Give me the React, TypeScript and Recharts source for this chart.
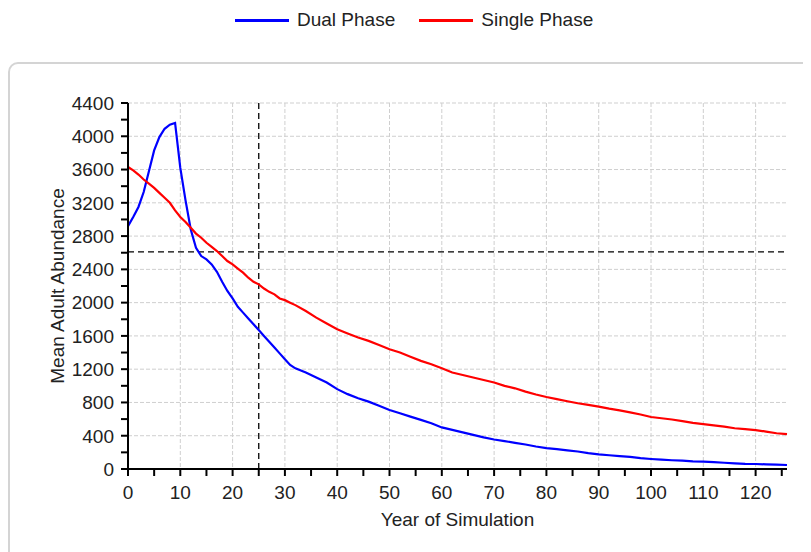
import React from 'react';
import {
  LineChart,
  Line,
  XAxis,
  YAxis,
  CartesianGrid,
  ReferenceLine
} from 'recharts';

// Simulation years (annual to 32, then every second year)
const years = [
  0, 1, 2, 3, 4, 5, 6, 7, 8, 9, 10, 11, 12, 13, 14, 15, 16, 17, 18, 19, 20,
  21, 22, 23, 24, 25, 26, 27, 28, 29, 30, 31, 32,
  34, 36, 38, 40, 42, 44, 46, 48, 50, 52, 54, 56, 58, 60, 62, 64, 66, 68,
  70, 72, 74, 76, 78, 80, 82, 84, 86, 88, 90, 92, 94, 96, 98, 100, 102, 104,
  106, 108, 110, 112, 114, 116, 118, 120, 122, 124, 126
];

const dualPhase = [
  2920, 3030, 3150, 3330, 3580, 3830, 3990, 4090, 4140, 4160, 3620, 3230,
  2880, 2660, 2560, 2520, 2460, 2370, 2250, 2140, 2050, 1950, 1880, 1810,
  1740, 1670, 1600, 1530, 1460, 1390, 1320, 1250, 1210,
  1160, 1100, 1040, 960, 900, 850, 810, 760, 710, 670, 630, 590, 550, 500,
  470, 440, 410, 380, 355, 335, 315, 295, 270, 250, 240, 225, 210, 190, 176,
  165, 155, 145, 130, 120, 112, 105, 100, 92, 88, 82, 75, 68, 62, 60, 56, 52, 48
];

const singlePhase = [
  3630, 3590, 3540, 3480, 3430, 3380, 3320, 3260, 3200, 3110, 3030, 2970,
  2900, 2830, 2780, 2720, 2670, 2620, 2560, 2500, 2460, 2410, 2360, 2300,
  2250, 2220, 2170, 2130, 2100, 2050, 2030, 2000, 1970,
  1900, 1820, 1750, 1680, 1630, 1580, 1540, 1490, 1440, 1400, 1350, 1300,
  1260, 1210, 1160, 1130, 1100, 1070, 1040, 1000, 970, 930, 895, 865, 840,
  815, 790, 770, 750, 725, 705, 680, 655, 625, 610, 595, 575, 555, 540, 525,
  510, 490, 480, 468, 450, 430, 420
];

const xTicks = [
  0, 5, 10, 15, 20, 25, 30, 35, 40, 45, 50, 55, 60, 65, 70, 75, 80, 85, 90,
  95, 100, 105, 110, 115, 120, 125
];
const yTicks = [
  0, 200, 400, 600, 800, 1000, 1200, 1400, 1600, 1800, 2000, 2200, 2400,
  2600, 2800, 3000, 3200, 3400, 3600, 3800, 4000, 4200, 4400
];
const xGrid = [10, 20, 30, 40, 50, 60, 70, 80, 90, 100, 110, 120];
const yGrid = [400, 800, 1200, 1600, 2000, 2400, 2800, 3200, 3600, 4000, 4400];

const cutoffYear = 25;
const threshold = 2610;

const data = years.map((year, i) => ({
  year,
  dual: dualPhase[i],
  single: singlePhase[i]
}));

const FONT = '"Liberation Sans", Arial, sans-serif';
const SIZE = 19;

// only every second tick gets a label, the rest are minor ticks
const XTick = ({ x, y, payload }: any) =>
  payload.value % 10 === 0 ? (
    <text x={x} y={y} dy="0.71em" textAnchor="middle" fill="#222" fontSize={SIZE} fontFamily={FONT}>
      {payload.value}
    </text>
  ) : null;

const YTick = ({ x, y, payload }: any) =>
  payload.value % 400 === 0 ? (
    <text x={x} y={y} dy="0.36em" textAnchor="end" fill="#222" fontSize={SIZE} fontFamily={FONT}>
      {payload.value}
    </text>
  ) : null;

const YLabel = ({ viewBox }: any) => {
  const cx = viewBox.x + 9;
  const cy = viewBox.y + viewBox.height / 2;
  return (
    <text
      x={cx}
      y={cy}
      transform={`rotate(-90 ${cx} ${cy})`}
      textAnchor="middle"
      dominantBaseline="central"
      fill="#222"
      fontSize={SIZE}
      fontFamily={FONT}
    >
      Mean Adult Abundance
    </text>
  );
};

const XLabel = ({ viewBox }: any) => (
  <text
    x={viewBox.x + viewBox.width / 2}
    y={viewBox.y + 50}
    textAnchor="middle"
    dominantBaseline="central"
    fill="#222"
    fontSize={SIZE}
    fontFamily={FONT}
  >
    Year of Simulation
  </text>
);

const LegendItem = ({ color, label }: { color: string; label: string }) => (
  <div style={{ display: 'flex', alignItems: 'center', marginRight: 24 }}>
    <span style={{ width: 54, height: 3, background: color, marginRight: 8 }} />
    <span style={{ fontSize: SIZE, color: '#222', fontFamily: FONT }}>{label}</span>
  </div>
);

export default function App() {
  return (
    <div style={{ position: 'relative', width: 803, height: 544, overflow: 'hidden' }}>
      <div
        style={{
          position: 'absolute',
          left: 0,
          top: 54,
          width: 840,
          height: 540,
          border: '2px solid #d4d4d4',
          borderRadius: 10,
          boxSizing: 'border-box'
        }}
      />
      <div style={{ position: 'absolute', left: 227, top: 1, display: 'flex' }}>
        <LegendItem color="#0000ff" label="Dual Phase" />
        <LegendItem color="#ff0000" label="Single Phase" />
      </div>
      <div style={{ position: 'absolute', left: 0, top: 0 }}>
        <LineChart width={803} height={544} data={data} margin={{ top: 95, right: 24, bottom: 23, left: 40 }}>
          <CartesianGrid
            stroke="#cfcfcf"
            strokeDasharray="4 2"
            horizontalValues={yGrid}
            verticalValues={xGrid}
          />
          <XAxis
            dataKey="year"
            type="number"
            domain={[0, 126]}
            ticks={xTicks}
            interval={0}
            height={60}
            tickSize={7}
            tickMargin={10}
            axisLine={{ stroke: '#000', strokeWidth: 2 }}
            tickLine={{ stroke: '#000', strokeWidth: 2 }}
            tick={<XTick />}
            label={<XLabel />}
          />
          <YAxis
            type="number"
            domain={[0, 4400]}
            ticks={yTicks}
            interval={0}
            width={80}
            tickSize={7}
            tickMargin={7}
            axisLine={{ stroke: '#000', strokeWidth: 2 }}
            tickLine={{ stroke: '#000', strokeWidth: 2 }}
            tick={<YTick />}
            label={<YLabel />}
          />
          <ReferenceLine x={cutoffYear} stroke="#000" strokeWidth={1.3} strokeDasharray="6 4" />
          <ReferenceLine y={threshold} stroke="#000" strokeWidth={1.3} strokeDasharray="6 4" />
          <Line
            type="linear"
            dataKey="dual"
            name="Dual Phase"
            stroke="#0000ff"
            strokeWidth={2.2}
            dot={false}
            isAnimationActive={false}
          />
          <Line
            type="linear"
            dataKey="single"
            name="Single Phase"
            stroke="#ff0000"
            strokeWidth={2.2}
            dot={false}
            isAnimationActive={false}
          />
        </LineChart>
      </div>
    </div>
  );
}
